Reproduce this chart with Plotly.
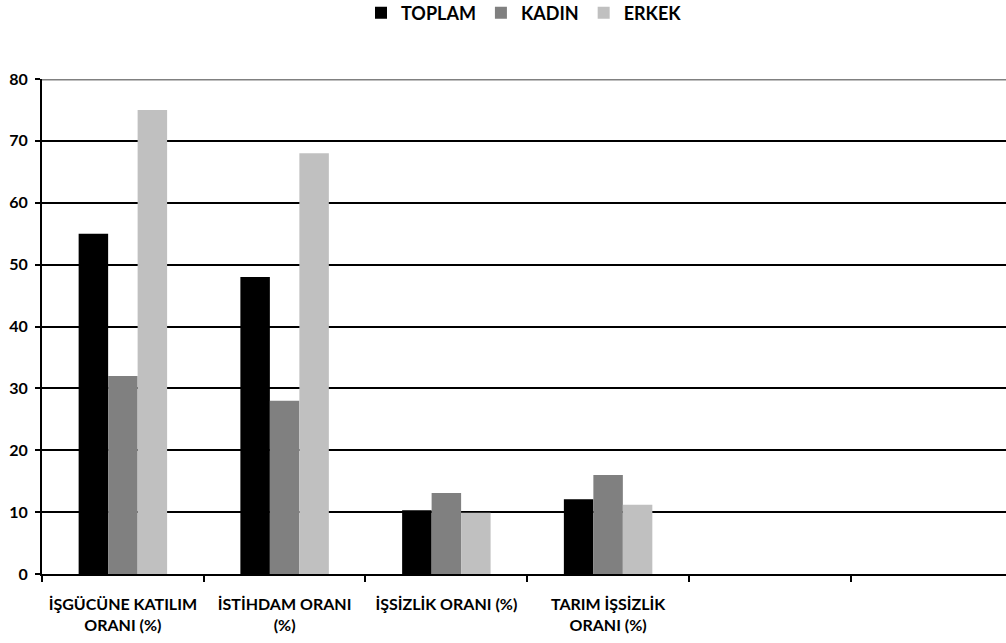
import plotly.graph_objects as go

categories = ["İŞGÜCÜNE KATILIM<br>ORANI (%)", "İSTİHDAM ORANI<br>(%)",
              "İŞSİZLİK ORANI (%)", "TARIM İŞSİZLİK<br>ORANI (%)"]
empty_slots = [" ", "  "]
series_names = ["TOPLAM", "KADIN", "ERKEK"]
toplam = [55, 48, 10.3, 12.1]
kadin = [32, 28, 13.1, 16]
erkek = [75, 68, 9.9, 11.2]
colors = ["#000000", "#808080", "#C0C0C0"]
y_ticks = [0, 10, 20, 30, 40, 50, 60, 70, 80]

slots = categories + empty_slots
font_family = "Lato, 'Open Sans', sans-serif"

fig = go.Figure()
for name, vals, col in zip(series_names, [toplam, kadin, erkek], colors):
    fig.add_trace(go.Bar(
        x=slots, y=vals + [None] * len(empty_slots), name=name,
        marker=dict(color=col, line=dict(width=0)),
    ))

fig.update_layout(
    width=1006, height=643,
    margin=dict(l=42, r=0, t=79, b=69, autoexpand=False),
    paper_bgcolor="white", plot_bgcolor="white",
    barmode="group", bargap=0.453, bargroupgap=0,
    font=dict(family=font_family, size=15, color="black"),
    showlegend=True,
    legend=dict(orientation="h", x=0.5, xanchor="center", y=1.133, yanchor="middle",
                font=dict(size=18, family=font_family, weight="bold"),
                traceorder="normal", itemwidth=30),
)
fig.update_xaxes(
    type="category", categoryorder="array", categoryarray=slots,
    range=[-0.5, 5.46], tickson="boundaries",
    showline=True, linecolor="black", linewidth=2,
    ticks="outside", ticklen=6, tickwidth=2, tickcolor="black",
    showgrid=False, ticklabelstandoff=15,
    tickfont=dict(size=16, family=font_family, weight="bold"),
)
fig.update_yaxes(
    range=[0, 80], tickvals=y_ticks,
    showline=True, linecolor="black", linewidth=2,
    ticks="outside", ticklen=5, tickwidth=2, tickcolor="black",
    showgrid=True, gridcolor="black", gridwidth=2,
    zeroline=False, ticklabelstandoff=4,
    tickfont=dict(size=16, family=font_family, weight="bold"),
)
fig.add_shape(type="line", xref="paper", yref="y", x0=0, x1=1, y0=80, y1=80,
              line=dict(color="#808080", width=3), layer="above")

fig.write_html("out.html")
